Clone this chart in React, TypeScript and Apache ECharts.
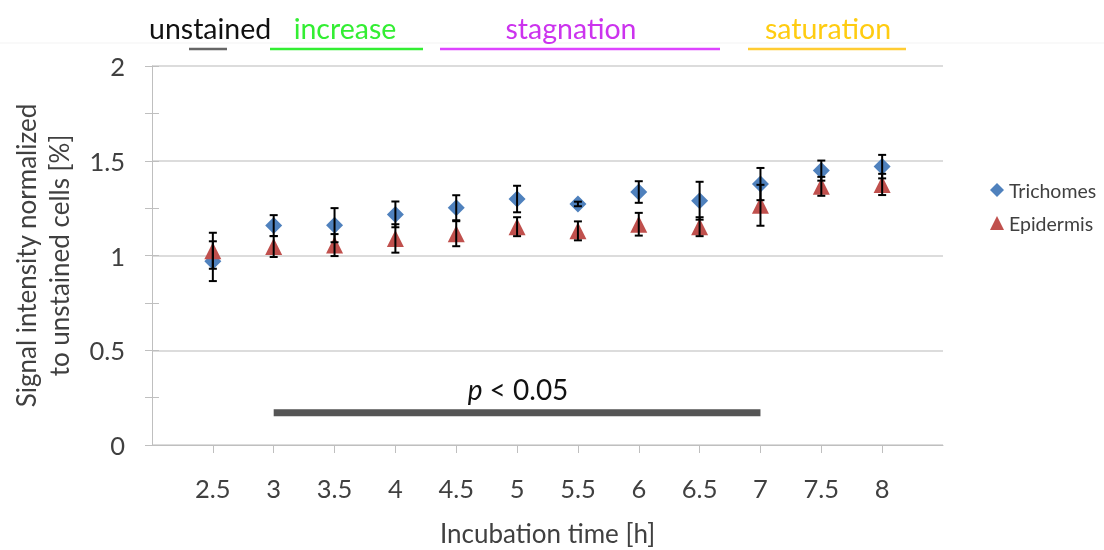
import React, { useEffect, useRef } from 'react';
import * as echarts from 'echarts';

const times = [2.5, 3, 3.5, 4, 4.5, 5, 5.5, 6, 6.5, 7, 7.5, 8];
const trichomes = [0.97, 1.158, 1.16, 1.217, 1.252, 1.298, 1.272, 1.335, 1.289, 1.377, 1.448, 1.469];
const trichomesErr = [0.105, 0.055, 0.09, 0.068, 0.066, 0.07, 0.012, 0.057, 0.1, 0.085, 0.053, 0.062];
const epidermis = [1.025, 1.047, 1.055, 1.09, 1.115, 1.152, 1.13, 1.165, 1.152, 1.265, 1.365, 1.375];
const epidermisErr = [0.095, 0.055, 0.058, 0.075, 0.066, 0.05, 0.05, 0.06, 0.05, 0.108, 0.05, 0.056];
const yTicks = [0, 0.5, 1, 1.5, 2];
const sigRange = [3, 7];
const sigLevel = 0.17;

const FONT = 'Lato';
const TEXT = '#404040';
const AXIS = '#bfbfbf';

export default function App() {
  const ref = useRef<HTMLDivElement>(null);
  useEffect(() => {
    const chart = echarts.init(ref.current!, null, { renderer: 'svg' });
    const errData = (vals: number[], errs: number[]) =>
      times.map((t, i) => [t, vals[i] - errs[i], vals[i] + errs[i]]);
    const renderErr = (_p: any, api: any) => {
      const x = api.value(0);
      const lo = api.value(1);
      const hi = api.value(2);
      const a = api.coord([x, hi]);
      const b = api.coord([x, lo]);
      const w = 4;
      const style = { stroke: '#000', lineWidth: 2 };
      return {
        type: 'group',
        children: [
          { type: 'line', shape: { x1: a[0], y1: a[1], x2: b[0], y2: b[1] }, style },
          { type: 'line', shape: { x1: a[0] - w, y1: a[1], x2: a[0] + w, y2: a[1] }, style },
          { type: 'line', shape: { x1: b[0] - w, y1: b[1], x2: b[0] + w, y2: b[1] }, style },
        ],
      };
    };
    const topLabel = (text: string, x: number, color: string, align = 'center') => ({
      type: 'text',
      x,
      y: 28,
      style: { text, fill: color, font: `28.5px ${FONT}`, textAlign: align, textVerticalAlign: 'middle' },
    });
    const topLine = (x1: number, x2: number, color: string) => ({
      type: 'line',
      shape: { x1, y1: 49, x2, y2: 49 },
      style: { stroke: color, lineWidth: 2.5 },
    });

    chart.setOption({
      animation: false,
      textStyle: { fontFamily: FONT },
      grid: { left: 152, right: 161, top: 66, bottom: 105, containLabel: false, outerBoundsMode: 'none' },
      legend: {
        orient: 'vertical',
        left: 985,
        top: 175,
        itemWidth: 14,
        itemHeight: 14,
        itemGap: 13,
        textStyle: { fontSize: 19.5, color: TEXT, fontFamily: FONT },
        data: ['Trichomes', 'Epidermis'],
      },
      xAxis: {
        type: 'value',
        min: 2,
        max: 8.5,
        interval: 0.5,
        name: 'Incubation time [h]',
        nameLocation: 'middle',
        nameGap: 75,
        nameTextStyle: { fontSize: 26, color: TEXT, fontFamily: FONT },
        axisLine: { show: true, lineStyle: { color: AXIS, width: 1 } },
        axisTick: { show: true, length: 8, lineStyle: { color: AXIS }, customValues: times },
        axisLabel: { fontSize: 25.5, color: TEXT, margin: 30, customValues: times, fontFamily: FONT },
        splitLine: { show: false },
      },
      yAxis: [
        {
          type: 'value',
          position: 'left',
          min: 0,
          max: 2,
          interval: 0.25,
          name: 'Signal intensity normalized\nto unstained cells [%]',
          nameLocation: 'middle',
          nameGap: 77,
          nameTextStyle: { fontSize: 26, color: TEXT, fontFamily: FONT, lineHeight: 33 },
          axisLine: { show: true, lineStyle: { color: AXIS, width: 1 } },
          axisTick: { show: true, length: 7, lineStyle: { color: AXIS } },
          axisLabel: {
            fontSize: 25.5,
            color: TEXT,
            margin: 27,
            fontFamily: FONT,
            formatter: (v: number) => (yTicks.includes(v) ? String(v) : ''),
          },
          splitLine: { show: false },
        },
        {
          type: 'value',
          position: 'left',
          offset: 0,
          min: 0,
          max: 2,
          interval: 0.25,
          axisLine: { show: false },
          axisTick: { show: true, inside: true, length: 7, lineStyle: { color: AXIS } },
          axisLabel: { show: false },
          splitLine: { show: false },
        },
        {
          type: 'value',
          position: 'left',
          offset: 0,
          min: 0,
          max: 2,
          interval: 0.5,
          axisLine: { show: false },
          axisTick: { show: false },
          axisLabel: { show: false },
          splitLine: { show: true, lineStyle: { color: '#d0d0d0', width: 1.5 } },
        },
      ],
      series: [
        {
          name: 'p-bar',
          type: 'line',
          data: sigRange.map((x) => [x, sigLevel]),
          symbol: 'none',
          lineStyle: { color: '#555555', width: 7, cap: 'butt' },
          silent: true,
          z: 1,
        },
        {
          name: 'Trichomes',
          type: 'scatter',
          data: times.map((t, i) => [t, trichomes[i]]),
          symbol: 'diamond',
          symbolSize: 17,
          itemStyle: { color: '#4f81bd', opacity: 1 },
          z: 3,
        },
        {
          name: 'Epidermis',
          type: 'scatter',
          data: times.map((t, i) => [t, epidermis[i]]),
          symbol: 'triangle',
          symbolSize: 17,
          itemStyle: { color: '#c0504d', opacity: 1 },
          z: 4,
        },
        {
          name: 'errT',
          type: 'custom',
          data: errData(trichomes, trichomesErr),
          renderItem: renderErr,
          z: 5,
          silent: true,
        },
        {
          name: 'errE',
          type: 'custom',
          data: errData(epidermis, epidermisErr),
          renderItem: renderErr,
          z: 5,
          silent: true,
        },
      ],
      graphic: [
        { type: 'line', shape: { x1: 0, y1: 43, x2: 1104, y2: 43 }, style: { stroke: '#f3f3f3', lineWidth: 1 } },
        topLabel('unstained', 149, '#111111', 'left'),
        topLine(189, 227, '#666666'),
        topLabel('increase', 345, '#33ee33'),
        topLine(270, 423, '#33ee33'),
        topLabel('stagnation', 571, '#cc33ee'),
        topLine(440, 720, '#dd44ff'),
        topLabel('saturation', 828, '#ffcc11'),
        topLine(748, 906, '#ffcc33'),
        {
          type: 'text',
          x: 518,
          y: 389,
          style: {
            text: '{i|p} < 0.05',
            font: `28px ${FONT}`,
            fill: '#111111',
            textAlign: 'center',
            textVerticalAlign: 'middle',
            rich: { i: { fontStyle: 'italic', fontSize: 28, fontFamily: FONT, fill: '#111111' } },
          },
        },
      ],
    });
    return () => chart.dispose();
  }, []);
  return <div ref={ref} style={{ position: 'fixed', left: 0, top: 0, width: 1104, height: 550 }} />;
}
